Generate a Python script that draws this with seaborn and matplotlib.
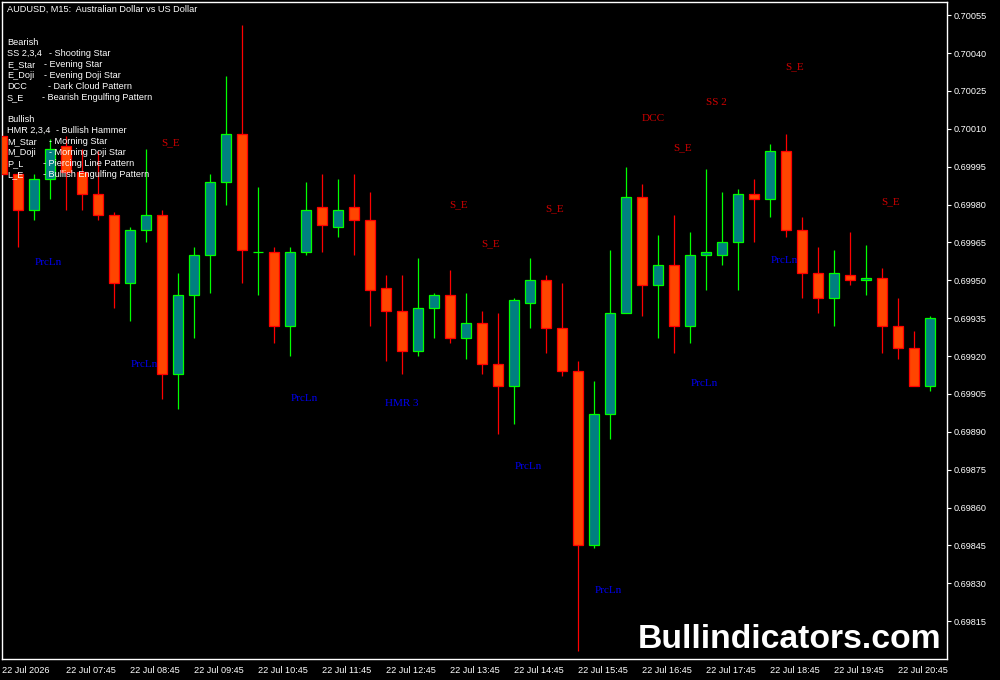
import numpy as np
import pandas as pd
import matplotlib
matplotlib.use('Agg')
import matplotlib.pyplot as plt
import seaborn as sns

# AUDUSD M15 bars, 22 Jul, first bar is 06:45
opens = [0.70007, 0.69992, 0.69978, 0.69990, 0.70003, 0.69993, 0.69984, 0.69976, 0.69949, 0.69970,
         0.69976, 0.69913, 0.69944, 0.69960, 0.69989, 0.70008, 0.69961, 0.69961, 0.69932, 0.69961,
         0.69979, 0.69971, 0.69979, 0.69974, 0.69947, 0.69938, 0.69922, 0.69939, 0.69944, 0.69927,
         0.69933, 0.69917, 0.69908, 0.69941, 0.69950, 0.69931, 0.69914, 0.69845, 0.69897, 0.69937,
         0.69983, 0.69948, 0.69956, 0.69932, 0.69960, 0.69960, 0.69965, 0.69984, 0.69982, 0.70001,
         0.69970, 0.69953, 0.69943, 0.69952, 0.69950, 0.69951, 0.69932, 0.69923, 0.69908]
highs = [0.70009, 0.69993, 0.69992, 0.70006, 0.70007, 0.70002, 0.70001, 0.69977, 0.69971, 0.70002,
         0.69978, 0.69953, 0.69963, 0.69992, 0.70031, 0.70051, 0.69987, 0.69963, 0.69963, 0.69989,
         0.69992, 0.69990, 0.69992, 0.69985, 0.69952, 0.69952, 0.69959, 0.69945, 0.69954, 0.69945,
         0.69938, 0.69937, 0.69943, 0.69959, 0.69952, 0.69949, 0.69918, 0.69910, 0.69962, 0.69995,
         0.69988, 0.69968, 0.69976, 0.69969, 0.69994, 0.69985, 0.69986, 0.69990, 0.70004, 0.70008,
         0.69975, 0.69963, 0.69962, 0.69969, 0.69964, 0.69955, 0.69943, 0.69930, 0.69936]
lows = [0.69991, 0.69963, 0.69974, 0.69982, 0.69978, 0.69978, 0.69974, 0.69939, 0.69934, 0.69965,
        0.69903, 0.69899, 0.69927, 0.69945, 0.69980, 0.69949, 0.69944, 0.69925, 0.69920, 0.69960,
        0.69961, 0.69967, 0.69960, 0.69932, 0.69918, 0.69913, 0.69920, 0.69927, 0.69925, 0.69919,
        0.69913, 0.69889, 0.69893, 0.69931, 0.69921, 0.69912, 0.69803, 0.69844, 0.69887, 0.69937,
        0.69936, 0.69927, 0.69921, 0.69925, 0.69946, 0.69956, 0.69946, 0.69965, 0.69975, 0.69967,
        0.69943, 0.69937, 0.69932, 0.69948, 0.69944, 0.69921, 0.69919, 0.69908, 0.69906]
closes = [0.69992, 0.69978, 0.69990, 0.70002, 0.69993, 0.69984, 0.69976, 0.69949, 0.69970, 0.69976,
          0.69913, 0.69944, 0.69960, 0.69989, 0.70008, 0.69962, 0.69961, 0.69932, 0.69961, 0.69978,
          0.69972, 0.69978, 0.69974, 0.69946, 0.69938, 0.69922, 0.69939, 0.69944, 0.69927, 0.69933,
          0.69917, 0.69908, 0.69942, 0.69950, 0.69931, 0.69914, 0.69845, 0.69897, 0.69937, 0.69983,
          0.69948, 0.69956, 0.69932, 0.69960, 0.69961, 0.69965, 0.69984, 0.69982, 0.70001, 0.69970,
          0.69953, 0.69943, 0.69953, 0.69950, 0.69951, 0.69932, 0.69923, 0.69908, 0.69935]

time_labels = ['22 Jul 2026', '22 Jul 07:45', '22 Jul 08:45', '22 Jul 09:45', '22 Jul 10:45',
               '22 Jul 11:45', '22 Jul 12:45', '22 Jul 13:45', '22 Jul 14:45', '22 Jul 15:45',
               '22 Jul 16:45', '22 Jul 17:45', '22 Jul 18:45', '22 Jul 19:45', '22 Jul 20:45']
price_ticks = [0.69815, 0.69830, 0.69845, 0.69860, 0.69875, 0.69890, 0.69905, 0.69920, 0.69935,
               0.69950, 0.69965, 0.69980, 0.69995, 0.70010, 0.70025, 0.70040, 0.70055]

# pattern marks drawn by the indicator (bar position, price)
bear_names = ['S_E', 'S_E', 'S_E', 'S_E', 'DCC', 'SS 2', 'S_E', 'S_E', 'S_E']
bear_x = [10.56, 28.56, 34.56, 30.56, 40.69, 44.63, 42.56, 49.56, 55.56]
bear_y = [0.700043, 0.699801, 0.699782, 0.699643, 0.700142, 0.700205, 0.700023, 0.700344, 0.699809]

bull_names = ['PrcLn', 'PrcLn', 'PrcLn', 'HMR 3', 'PrcLn', 'PrcLn', 'PrcLn', 'PrcLn']
bull_x = [2.88, 8.88, 18.88, 25.0, 32.88, 37.88, 43.88, 48.88]
bull_y = [0.699572, 0.699168, 0.699033, 0.699013, 0.698764, 0.698273, 0.699093, 0.699580]

# legend printed in the corner
legend_keys = ['Bearish', 'SS 2,3,4', 'E_Star', 'E_Doji', 'DCC', 'S_E', '',
               'Bullish', 'HMR 2,3,4', 'M_Star', 'M_Doji', 'P_L', 'L_E']
legend_desc = ['', '- Shooting Star', '- Evening Star', '- Evening Doji Star', '- Dark Cloud Pattern',
               '- Bearish Engulfing Pattern', '', '', '- Bullish Hammer', '- Morning Star',
               '- Morning Doji Star', '- Piercing Line Pattern', '- Bullish Engulfing Pattern']
desc_px = [0, 49, 44, 44, 48, 42, 0, 0, 56, 49, 49, 43, 43]

df = pd.DataFrame({'open': opens, 'high': highs, 'low': lows, 'close': closes})
df['bull'] = df['close'] >= df['open']

sns.set_style('dark', rc={'axes.facecolor': 'black', 'figure.facecolor': 'black',
                          'axes.edgecolor': 'white', 'text.color': 'white',
                          'xtick.color': 'white', 'ytick.color': 'white'})
plt.rcParams['font.family'] = ['Liberation Sans', 'DejaVu Sans']
small = 6.6

W, H = 1000, 680
fig = plt.figure(figsize=(10, 6.8), dpi=100)
ax = fig.add_axes([2 / W, (H - 659) / H, 945 / W, 657 / H])
ax.set_facecolor('black')


def px(x, y):
    return x / W, 1 - y / H


bull_edge, bull_face = '#00FF00', '#008080'
bear_edge, bear_face = '#FF0000', '#FF4500'
edge_cols = np.where(df['bull'], bull_edge, bear_edge)
face_cols = np.where(df['bull'], bull_face, bear_face)

# wicks then bodies
ax.vlines(df.index, df['low'], df['high'], colors=edge_cols, linewidth=0.9, zorder=2)
body_lo = df[['open', 'close']].min(axis=1)
body_h = (df['close'] - df['open']).abs()
ax.bar(df.index, body_h, bottom=body_lo, width=0.62, color=face_cols,
       edgecolor=edge_cols, linewidth=0.9, zorder=3)

for name, x, y in zip(bear_names, bear_x, bear_y):
    ax.text(x, y, name, color='#D00000', fontsize=8, family='Liberation Serif',
            ha='center', va='center', zorder=5)
for name, x, y in zip(bull_names, bull_x, bull_y):
    ax.text(x, y, name, color='#0000F0', fontsize=8, family='Liberation Serif',
            ha='center', va='center', zorder=5)

ax.set_xlim(0, 945 / 16)
ax.set_ylim(0.69800, 0.700602)

ax.yaxis.tick_right()
ax.set_yticks(price_ticks)
ax.set_yticklabels(['%.5f' % p for p in price_ticks])
ax.set_xticks(np.arange(0, 4 * len(time_labels), 4))
ax.set_xticklabels(time_labels, ha='left')
ax.tick_params(axis='y', direction='out', length=3, width=0.8, labelsize=small, pad=1.5)
ax.tick_params(axis='x', direction='out', length=4, width=0.8, labelsize=small, pad=1)
ax.grid(False)
for s in ax.spines.values():
    s.set_color('white')
    s.set_linewidth(1.0)

fig.text(*px(7, 9.5), 'AUDUSD, M15:  Australian Dollar vs US Dollar', color='white',
         fontsize=small, va='center')
for i, (key, desc) in enumerate(zip(legend_keys, legend_desc)):
    yy = 42.7 + 11 * i
    if key:
        fig.text(*px(7, yy), key, color='white', fontsize=small, va='center', zorder=10)
    if desc:
        fig.text(*px(desc_px[i], yy), desc, color='white', fontsize=small, va='center', zorder=10)

fig.text(*px(638, 648), 'Bullindicators.com', color='white', fontsize=24.3,
         family='Liberation Sans', fontweight='bold', va='baseline')

fig.savefig('out.png', dpi=100, facecolor='black')
